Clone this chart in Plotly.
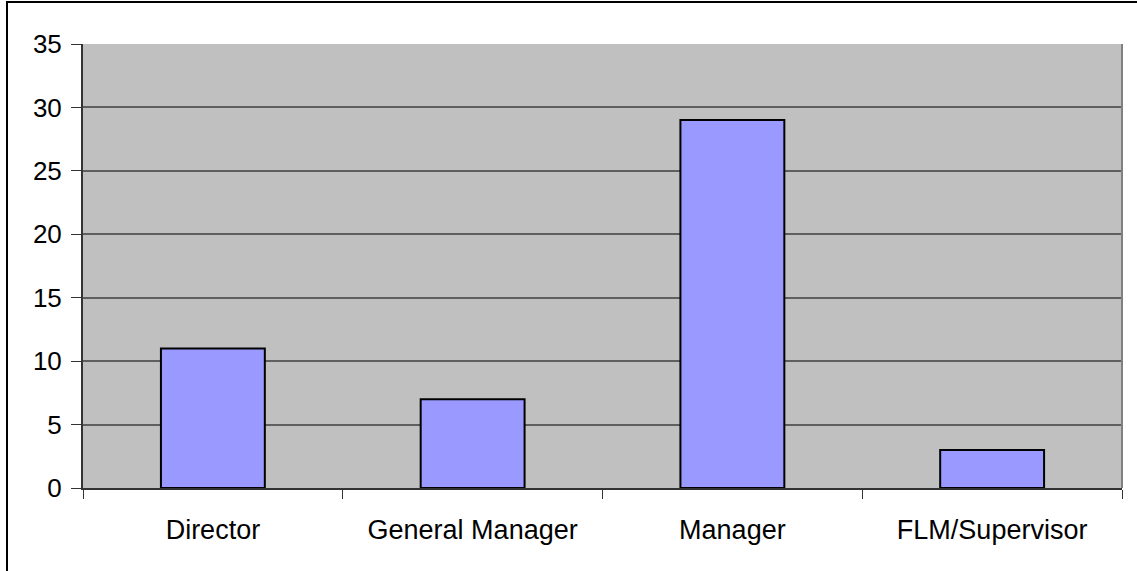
import plotly.graph_objects as go

# Headcount by management level
levels = ["Director", "General Manager", "Manager", "FLM/Supervisor"]
counts = [11, 7, 29, 3]
y_ticks = [0, 5, 10, 15, 20, 25, 30, 35]

W, H = 1137, 571
ML, MR, MT, MB = 83, 15, 44, 83
pw = W - ML - MR
ph = H - MT - MB


def px_to_paper_x(px):
    return (px - ML) / pw


def px_to_paper_y(py):
    return (H - MB - py) / ph


fig = go.Figure(
    go.Bar(
        x=levels,
        y=counts,
        marker=dict(color="#9999FF", line=dict(color="#000000", width=2)),
        width=0.4,
    )
)

font = dict(family="Liberation Sans, Arial, sans-serif", color="#000000")

fig.update_layout(
    width=W,
    height=H,
    margin=dict(l=ML, r=MR, t=MT, b=MB, pad=0),
    paper_bgcolor="#FFFFFF",
    plot_bgcolor="#C0C0C0",
    showlegend=False,
    font=font,
    shapes=[
        # outer chart frame
        dict(type="rect", xref="paper", yref="paper",
             x0=px_to_paper_x(7), x1=px_to_paper_x(1160),
             y0=px_to_paper_y(590), y1=px_to_paper_y(2),
             line=dict(color="#000000", width=2), fillcolor="rgba(0,0,0,0)",
             layer="below"),
        # right edge of plot area
        dict(type="line", xref="paper", yref="paper",
             x0=1, x1=1, y0=0, y1=1,
             line=dict(color="#808080", width=2)),
    ],
)

fig.update_xaxes(
    type="category",
    tickson="boundaries",
    ticks="outside",
    ticklen=9,
    tickwidth=1,
    tickcolor="#333333",
    showline=True,
    linecolor="#333333",
    linewidth=2,
    showgrid=False,
    tickfont=dict(size=27, **font),
    ticklabelstandoff=17,
)

fig.update_yaxes(
    range=[0, 35],
    tickvals=y_ticks,
    ticktext=[str(v) for v in y_ticks],
    ticks="outside",
    ticklen=10,
    tickwidth=1,
    tickcolor="#333333",
    showline=True,
    linecolor="#333333",
    linewidth=2,
    showgrid=True,
    gridcolor="#5F5F5F",
    gridwidth=2,
    zeroline=False,
    tickfont=dict(size=26, **font),
    ticklabelstandoff=4,
)

fig.write_html("out.html")
